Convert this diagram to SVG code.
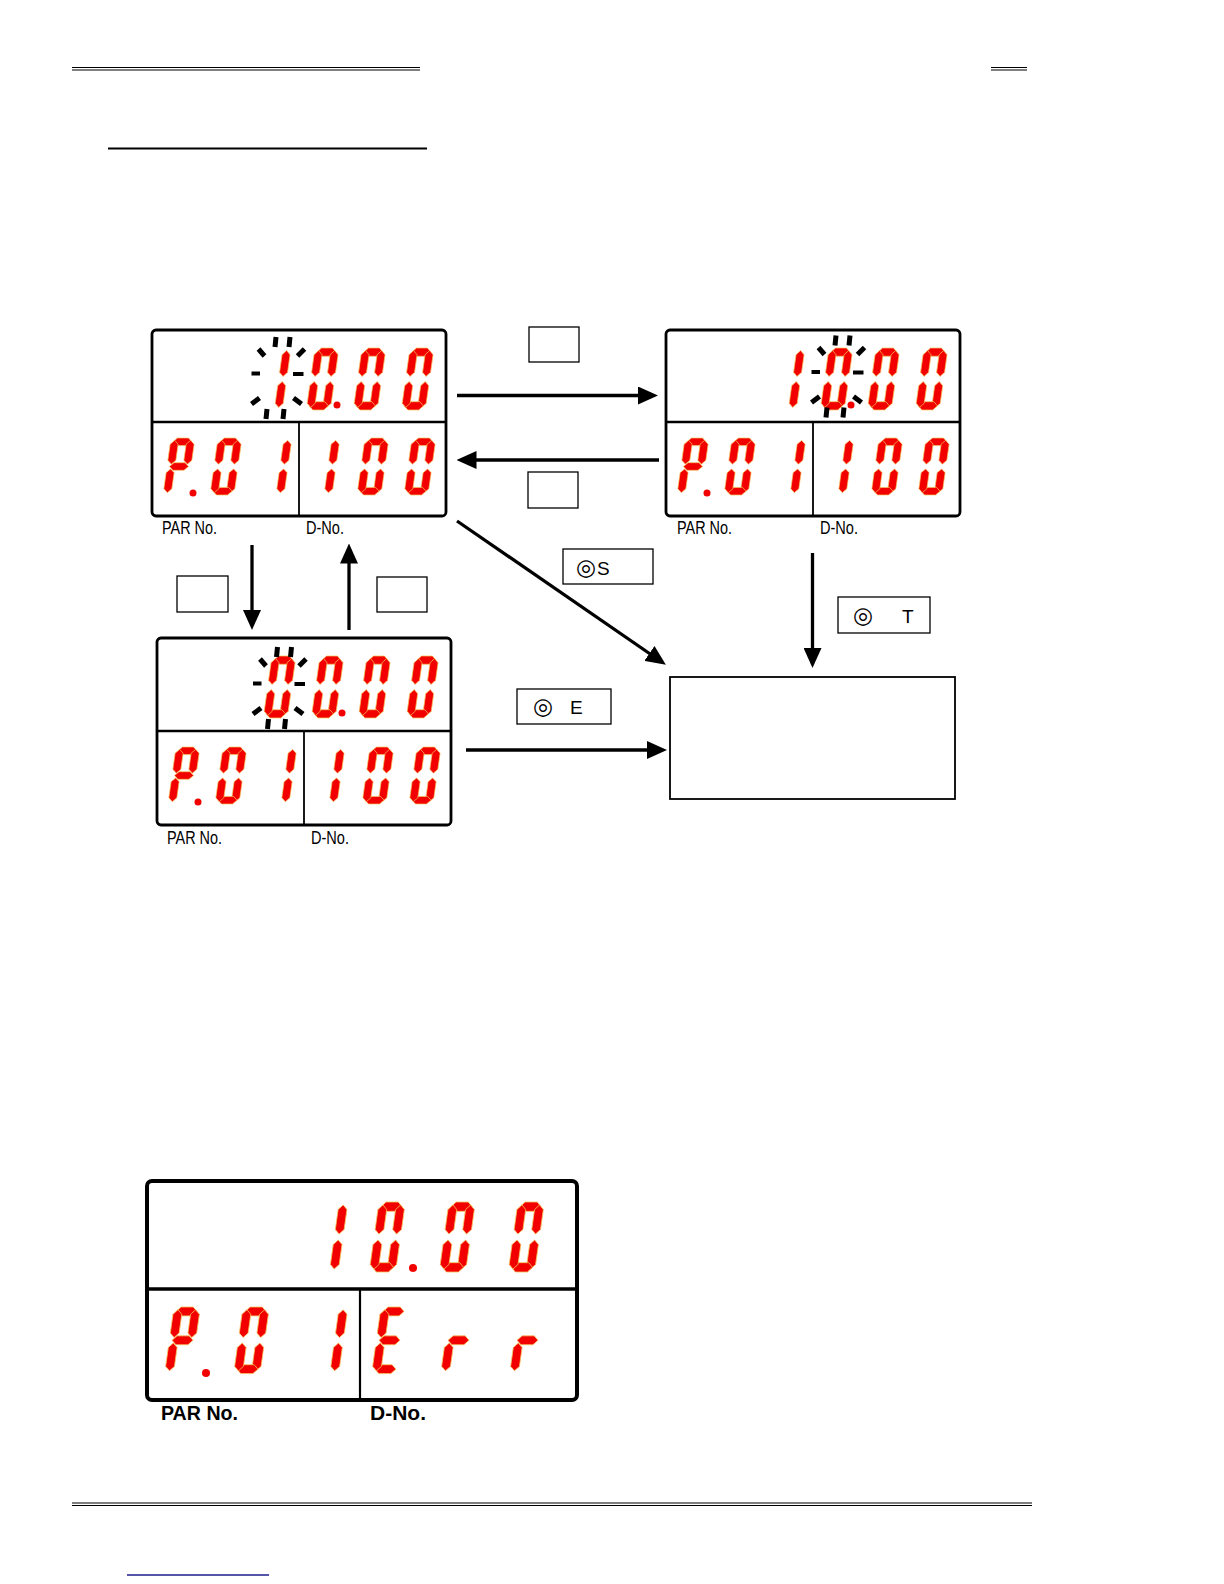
<svg xmlns="http://www.w3.org/2000/svg" xmlns:xlink="http://www.w3.org/1999/xlink" width="1224" height="1584" viewBox="0 0 1224 1584">
<defs>
<style>
.seg{fill:#f20000;stroke:#f5c45e;stroke-width:0.7}
.frame{fill:#fff;stroke:#000;stroke-width:2.8}
.div{stroke:#000;stroke-width:2.4}
.vdiv{stroke:#000;stroke-width:1.8}
.dot{fill:#f20000}
.tick{stroke:#000;stroke-width:5;fill:none}
.key{fill:#fff;stroke:#000;stroke-width:1.3}
.lbl{font-family:"Liberation Sans","DejaVu Sans",sans-serif;font-size:18px;fill:#000}
.ktxt{font-family:"Liberation Sans","DejaVu Sans",sans-serif;font-size:19px;fill:#000}
.sym{font-family:"DejaVu Sans","Noto Sans CJK JP",sans-serif;font-size:23px}
.conn{stroke:#000;stroke-width:3.3;fill:none;marker-end:url(#ah)}
.rule{stroke:#000;stroke-width:1.2}
</style>
<marker id="ah" markerUnits="userSpaceOnUse" viewBox="0 0 20 18" markerWidth="20" markerHeight="18" refX="8" refY="9" orient="auto">
<path d="M0,0 L20,9 L0,18 Z" fill="#000"/>
</marker>
<path id="sa" class="seg" d="M2.5,4 L6.5,0 L17.5,0 L21.5,4 L17.5,8 L6.5,8 Z"/>
<path id="sg" class="seg" d="M2.5,30 L6.5,26 L17.5,26 L21.5,30 L17.5,34 L6.5,34 Z"/>
<path id="sd" class="seg" d="M2.5,56 L6.5,52 L17.5,52 L21.5,56 L17.5,60 L6.5,60 Z"/>
<path id="sf" class="seg" d="M4,2.5 L8,6.5 L8,23.5 L4,27.5 L0,23.5 L0,6.5 Z"/>
<path id="sb" class="seg" d="M20,2.5 L24,6.5 L24,23.5 L20,27.5 L16,23.5 L16,6.5 Z"/>
<path id="se" class="seg" d="M4,32.5 L8,36.5 L8,53.5 L4,57.5 L0,53.5 L0,36.5 Z"/>
<path id="sc" class="seg" d="M20,32.5 L24,36.5 L24,53.5 L20,57.5 L16,53.5 L16,36.5 Z"/>
<g id="d0"><use href="#sa"/><use href="#sb"/><use href="#sc"/><use href="#sd"/><use href="#se"/><use href="#sf"/></g>
<g id="d1"><use href="#sb"/><use href="#sc"/></g>
<g id="dP"><use href="#sa"/><use href="#sb"/><use href="#se"/><use href="#sf"/><use href="#sg"/></g>
<g id="dE"><use href="#sa"/><use href="#sd"/><use href="#se"/><use href="#sf"/><use href="#sg"/></g>
<g id="dr"><use href="#se"/><use href="#sg"/></g>
<g id="burst" class="tick">
<line x1="-1.5" y1="-41" x2="-2.5" y2="-31"/>
<line x1="12.5" y1="-41" x2="11.5" y2="-31"/>
<line x1="-19" y1="-29" x2="-13" y2="-22"/>
<line x1="27" y1="-29" x2="20" y2="-22"/>
<line x1="-26" y1="-4.5" x2="-17.5" y2="-4.5" style="stroke-width:4"/>
<line x1="15.5" y1="-4" x2="26" y2="-4" style="stroke-width:4"/>
<line x1="-26" y1="26" x2="-18" y2="20"/>
<line x1="16" y1="20" x2="24" y2="26"/>
<line x1="-10.5" y1="31" x2="-11.5" y2="41"/>
<line x1="6.5" y1="31" x2="5.5" y2="41"/>
</g>
<g id="lowrow">
<use href="#dP" transform="translate(19,108) skewX(-8) scale(1,0.95)"/>
<circle class="dot" cx="41" cy="163" r="3.5"/>
<use href="#d0" transform="translate(66,108) skewX(-8) scale(1,0.95)"/>
<use href="#d1" transform="translate(116,108) skewX(-8) scale(1,0.95)"/>
<use href="#d1" transform="translate(164,108) skewX(-8) scale(1,0.95)"/>
<use href="#d0" transform="translate(213,108) skewX(-8) scale(1,0.95)"/>
<use href="#d0" transform="translate(260,108) skewX(-8) scale(1,0.95)"/>
</g>
</defs>

<rect width="1224" height="1584" fill="#fff"/>

<g id="page-rules">
<line class="rule" x1="72" y1="67.5" x2="420" y2="67.5"/>
<line class="rule" x1="72" y1="70" x2="420" y2="70"/>
<line class="rule" x1="991" y1="67.5" x2="1027" y2="67.5"/>
<line class="rule" x1="991" y1="70" x2="1027" y2="70"/>
<line x1="108" y1="148.5" x2="427" y2="148.5" stroke="#000" stroke-width="2.2"/>
<line class="rule" x1="72" y1="1503" x2="1032" y2="1503"/>
<line class="rule" x1="72" y1="1505.5" x2="1032" y2="1505.5"/>
<line x1="127" y1="1575" x2="269" y2="1575" stroke="#1c1c8c" stroke-width="1.3"/>
</g>

<g id="connectors">
<line class="conn" x1="457" y1="395.5" x2="646" y2="395.5"/>
<line class="conn" x1="659" y1="460" x2="468.5" y2="460"/>
<line class="conn" x1="252" y1="545" x2="252" y2="618"/>
<line class="conn" x1="349" y1="630" x2="349" y2="555.5"/>
<line class="conn" x1="457" y1="521" x2="656" y2="658"/>
<line class="conn" x1="812.5" y1="553" x2="812.5" y2="656"/>
<line class="conn" x1="466" y1="750" x2="655" y2="750"/>
</g>

<g id="display-a" transform="translate(152,330)">
<rect class="frame" x="0" y="0" width="294" height="186" rx="4"/>
<line class="div" x1="0" y1="92" x2="294" y2="92"/>
<line class="vdiv" x1="147" y1="92" x2="147" y2="186"/>
<use href="#d1" transform="translate(115,18) skewX(-8) scale(1,1.033)"/>
<use href="#d0" transform="translate(163,18) skewX(-8) scale(1,1.033)"/>
<circle class="dot" cx="185" cy="75" r="3.5"/>
<use href="#d0" transform="translate(210,18) skewX(-8) scale(1,1.033)"/>
<use href="#d0" transform="translate(258,18) skewX(-8) scale(1,1.033)"/>
<use href="#burst" transform="translate(125.5,48)"/>
<use href="#lowrow"/>
<text class="lbl" x="10" y="204" textLength="55" lengthAdjust="spacingAndGlyphs">PAR No.</text>
<text class="lbl" x="154" y="204" textLength="38" lengthAdjust="spacingAndGlyphs">D-No.</text>
</g>

<g id="display-b" transform="translate(666,330)">
<rect class="frame" x="0" y="0" width="294" height="186" rx="4"/>
<line class="div" x1="0" y1="92" x2="294" y2="92"/>
<line class="vdiv" x1="147" y1="92" x2="147" y2="186"/>
<use href="#d1" transform="translate(115,18) skewX(-8) scale(1,1.033)"/>
<use href="#d0" transform="translate(163,18) skewX(-8) scale(1,1.033)"/>
<circle class="dot" cx="185" cy="75" r="3.5"/>
<use href="#d0" transform="translate(210,18) skewX(-8) scale(1,1.033)"/>
<use href="#d0" transform="translate(258,18) skewX(-8) scale(1,1.033)"/>
<use href="#burst" transform="translate(171.5,46.5)"/>
<use href="#lowrow"/>
<text class="lbl" x="11" y="204" textLength="55" lengthAdjust="spacingAndGlyphs">PAR No.</text>
<text class="lbl" x="154" y="204" textLength="38" lengthAdjust="spacingAndGlyphs">D-No.</text>
</g>

<g id="display-c" transform="translate(157,638)">
<rect class="frame" x="0" y="0" width="294" height="187" rx="4"/>
<line class="div" x1="0" y1="93" x2="294" y2="93"/>
<line class="vdiv" x1="147" y1="93" x2="147" y2="187"/>
<use href="#d0" transform="translate(115,18) skewX(-8) scale(1,1.033)"/>
<use href="#d0" transform="translate(163,18) skewX(-8) scale(1,1.033)"/>
<circle class="dot" cx="185" cy="75" r="3.5"/>
<use href="#d0" transform="translate(210,18) skewX(-8) scale(1,1.033)"/>
<use href="#d0" transform="translate(258,18) skewX(-8) scale(1,1.033)"/>
<use href="#burst" transform="translate(122,50)"/>
<g transform="translate(0,1)"><use href="#lowrow"/></g>
<text class="lbl" x="10" y="206" textLength="55" lengthAdjust="spacingAndGlyphs">PAR No.</text>
<text class="lbl" x="154" y="206" textLength="38" lengthAdjust="spacingAndGlyphs">D-No.</text>
</g>

<g id="key-right">
<rect class="key" x="529" y="327" width="50" height="35"/>
</g>
<g id="key-left">
<rect class="key" x="528" y="472" width="50" height="36"/>
</g>
<g id="key-down">
<rect class="key" x="177" y="576" width="51" height="36"/>
</g>
<g id="key-up">
<rect class="key" x="377" y="577" width="50" height="35"/>
</g>
<g id="key-s">
<rect class="key" x="563" y="549" width="90" height="35"/>
<text class="ktxt" y="575"><tspan class="sym" x="576">◎</tspan><tspan x="597">S</tspan></text>
</g>
<g id="key-e">
<rect class="key" x="517" y="689" width="94" height="35"/>
<text class="ktxt" y="714"><tspan class="sym" x="533">◎</tspan><tspan x="570">E</tspan></text>
</g>
<g id="key-t">
<rect class="key" x="838" y="597" width="92" height="36"/>
<text class="ktxt" y="623"><tspan class="sym" x="853">◎</tspan><tspan x="902">T</tspan></text>
</g>
<g id="result">
<rect x="670" y="677" width="285" height="122" fill="#fff" stroke="#000" stroke-width="1.8"/>
</g>

<g id="display-err">
<rect x="147" y="1181" width="430" height="219" rx="5" fill="#fff" stroke="#000" stroke-width="4"/>
<line x1="147" y1="1289" x2="577" y2="1289" stroke="#000" stroke-width="3.3"/>
<line x1="360" y1="1289" x2="360" y2="1400" stroke="#000" stroke-width="2.2"/>
<use href="#d1" transform="translate(321.6,1202) skewX(-8) scale(1.1,1.167)"/>
<use href="#d0" transform="translate(379,1202) skewX(-8) scale(1.1,1.167)"/>
<circle class="dot" cx="413" cy="1268" r="4"/>
<use href="#d0" transform="translate(449,1202) skewX(-8) scale(1.1,1.167)"/>
<use href="#d0" transform="translate(518,1202) skewX(-8) scale(1.1,1.167)"/>
<use href="#dP" transform="translate(174,1307) skewX(-8) scale(1.1,1.11)"/>
<circle class="dot" cx="206" cy="1373" r="4"/>
<use href="#d0" transform="translate(243,1307) skewX(-8) scale(1.1,1.11)"/>
<use href="#d1" transform="translate(321.6,1307) skewX(-8) scale(1.1,1.11)"/>
<use href="#dE" transform="translate(381,1307) skewX(-8) scale(1.1,1.11)"/>
<use href="#dr" transform="translate(450,1307) skewX(-8) scale(1.1,1.11)"/>
<use href="#dr" transform="translate(519,1307) skewX(-8) scale(1.1,1.11)"/>
<text class="lbl" x="161" y="1420" style="font-size:21px;font-weight:bold" textLength="77" lengthAdjust="spacingAndGlyphs">PAR No.</text>
<text class="lbl" x="370" y="1420" style="font-size:21px;font-weight:bold" textLength="56" lengthAdjust="spacingAndGlyphs">D-No.</text>
</g>
</svg>
